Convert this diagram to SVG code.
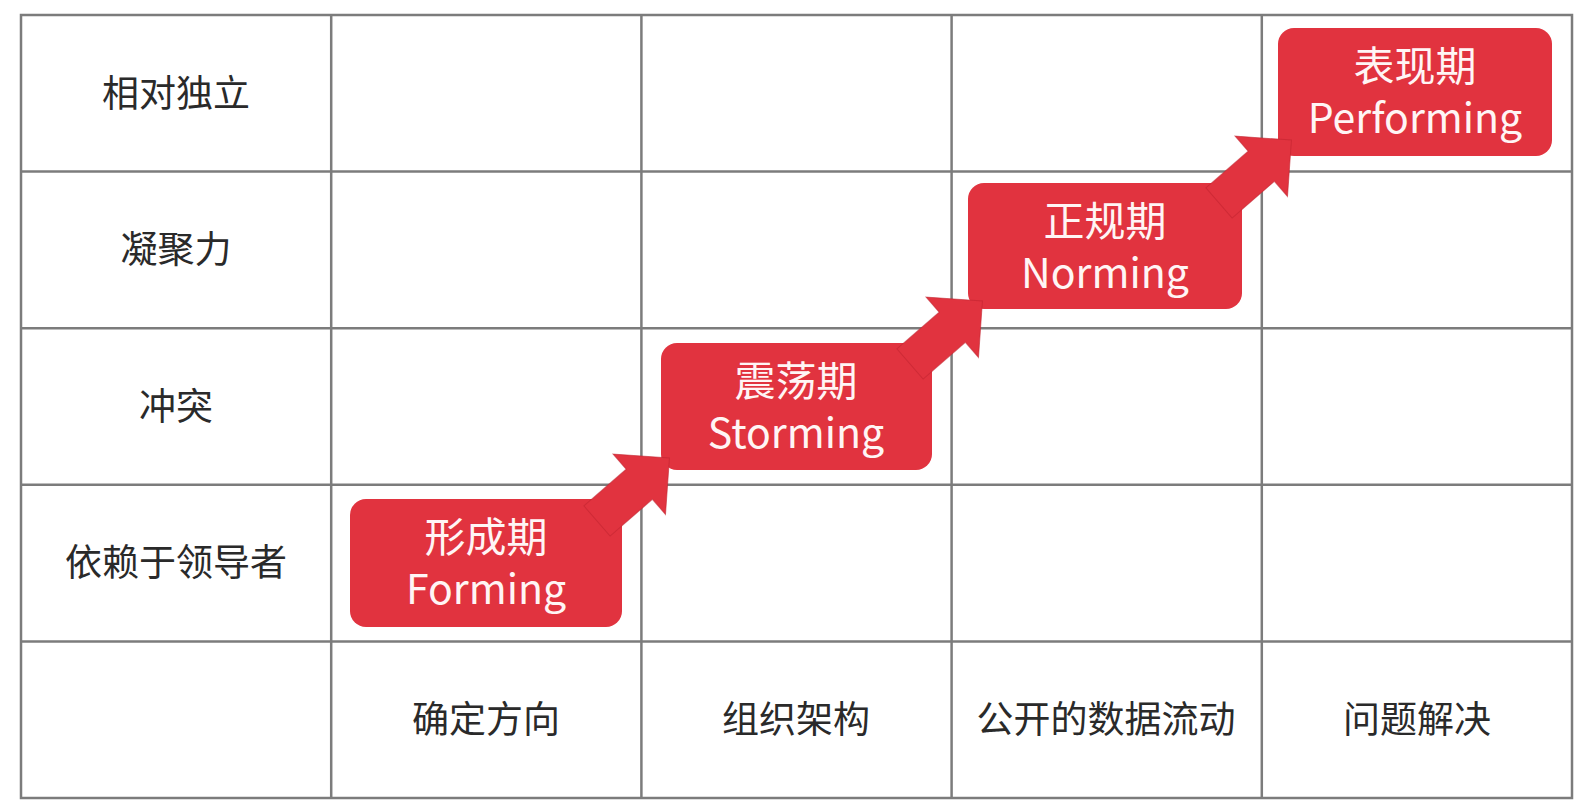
<svg xmlns="http://www.w3.org/2000/svg" width="1590" height="808" viewBox="0 0 1590 808">
  <style>
    .grid { stroke: #7c7c7c; stroke-width: 2.5; fill: none; }
    .lbl { font-family: "Noto Sans CJK SC", "Noto Sans", sans-serif; font-size: 37px; fill: #2a2a2a; text-anchor: middle; }
    .box { fill: #e1333f; }
    .nt { font-family: "Noto Sans CJK SC", "Noto Sans", sans-serif; font-size: 41px; fill: #fff5f5; text-anchor: middle; }
    .arrow { fill: #e1333f; stroke: #c22431; stroke-width: 1; stroke-opacity: 0.6; }
  </style>
  <defs>
    <polygon id="arr" points="0,-20 56,-20 56,-40 96,0 56,40 56,20 0,20"/>
  </defs>
  <rect width="1590" height="808" fill="#ffffff"/>
  <g id="grid" class="grid">
    <rect x="21" y="15" width="1551" height="783"/>
    <line x1="331.2" y1="15" x2="331.2" y2="798"/>
    <line x1="641.4" y1="15" x2="641.4" y2="798"/>
    <line x1="951.6" y1="15" x2="951.6" y2="798"/>
    <line x1="1261.8" y1="15" x2="1261.8" y2="798"/>
    <line x1="21" y1="171.6" x2="1572" y2="171.6"/>
    <line x1="21" y1="328.2" x2="1572" y2="328.2"/>
    <line x1="21" y1="484.8" x2="1572" y2="484.8"/>
    <line x1="21" y1="641.4" x2="1572" y2="641.4"/>
  </g>
  <g id="row-labels">
    <text class="lbl" x="176" y="106.5">相对独立</text>
    <text class="lbl" x="176" y="263">凝聚力</text>
    <text class="lbl" x="176" y="419.5">冲突</text>
    <text class="lbl" x="176" y="576">依赖于领导者</text>
  </g>
  <g id="col-labels">
    <text class="lbl" x="486" y="733">确定方向</text>
    <text class="lbl" x="796" y="733">组织架构</text>
    <text class="lbl" x="1106" y="733">公开的数据流动</text>
    <text class="lbl" x="1417" y="733">问题解决</text>
  </g>
  <g id="node-forming">
    <rect class="box" x="350" y="499" width="272" height="128" rx="16"/>
    <text class="nt" x="486" y="552"><tspan x="486">形成期</tspan><tspan x="486" dy="52">Forming</tspan></text>
  </g>
  <g id="node-storming">
    <rect class="box" x="661" y="343" width="271" height="127" rx="16"/>
    <text class="nt" x="796" y="396"><tspan x="796">震荡期</tspan><tspan x="796" dy="52">Storming</tspan></text>
  </g>
  <g id="node-norming">
    <rect class="box" x="968" y="183" width="274" height="126" rx="16"/>
    <text class="nt" x="1105" y="236"><tspan x="1105">正规期</tspan><tspan x="1105" dy="52">Norming</tspan></text>
  </g>
  <g id="node-performing">
    <rect class="box" x="1278" y="28" width="274" height="128" rx="16"/>
    <text class="nt" x="1415" y="81"><tspan x="1415">表现期</tspan><tspan x="1415" dy="52">Performing</tspan></text>
  </g>
  <g id="connectors">
    <use href="#arr" class="arrow" transform="translate(597,521) rotate(-41)"/>
    <use href="#arr" class="arrow" transform="translate(910,364) rotate(-41)"/>
    <use href="#arr" class="arrow" transform="translate(1219,203) rotate(-41)"/>
  </g>
</svg>
